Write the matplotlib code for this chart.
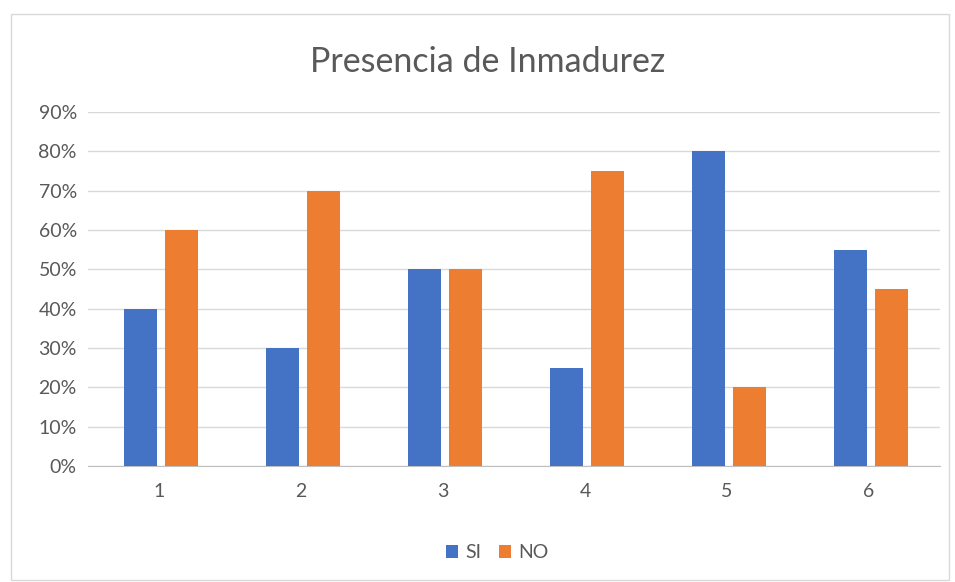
import matplotlib.pyplot as plt
import numpy as np
from matplotlib.patches import Rectangle
from matplotlib.ticker import FuncFormatter

categories = ['1', '2', '3', '4', '5', '6']
si_values = [40, 30, 50, 25, 80, 55]
no_values = [60, 70, 50, 75, 20, 45]
y_ticks = [0, 10, 20, 30, 40, 50, 60, 70, 80, 90]

plt.rcParams['font.family'] = ['Lato', 'DejaVu Sans']

fig = plt.figure(figsize=(9.55, 5.82), dpi=100)
ax = fig.add_axes([0.0921, 0.1993, 0.8922, 0.6083])

# outer chart border
fig.patches.append(Rectangle((0.012, 0.004), 0.982, 0.972, transform=fig.transFigure,
                             fill=False, edgecolor='#d9d9d9', linewidth=1))

x = np.arange(len(categories))
width = 0.232
gap = 0.056
ax.bar(x - (width + gap) / 2 + 0.012, si_values, width, color='#4472c4', label='SI', zorder=3)
ax.bar(x + (width + gap) / 2 + 0.012, no_values, width, color='#ed7d31', label='NO', zorder=3)

ax.set_xlim(-0.5, len(categories) - 0.5)
ax.set_ylim(0, 90)
ax.set_yticks(y_ticks)
ax.yaxis.set_major_formatter(FuncFormatter(lambda v, p: f'{int(v)}%'))
ax.set_xticks(x)
ax.set_xticklabels(categories)
ax.grid(axis='y', color='#d9d9d9', linewidth=1, zorder=0)
for s in ['top', 'right', 'left']:
    ax.spines[s].set_visible(False)
ax.spines['bottom'].set_color('#bfbfbf')
ax.tick_params(length=0, labelsize=14, colors='#595959')
ax.tick_params(axis='x', pad=12)
ax.tick_params(axis='y', pad=8)

fig.text(0.511, 0.893, 'Presencia de Inmadurez', ha='center', va='center',
         fontsize=24.5, color='#595959')

ax.legend(loc='center', bbox_to_anchor=(0.48, -0.245), ncol=2, frameon=False,
          fontsize=14, handlelength=0.65, handleheight=0.65, handletextpad=0.35,
          columnspacing=0.9, labelcolor='#595959')

fig.savefig('out.png', dpi=100)
